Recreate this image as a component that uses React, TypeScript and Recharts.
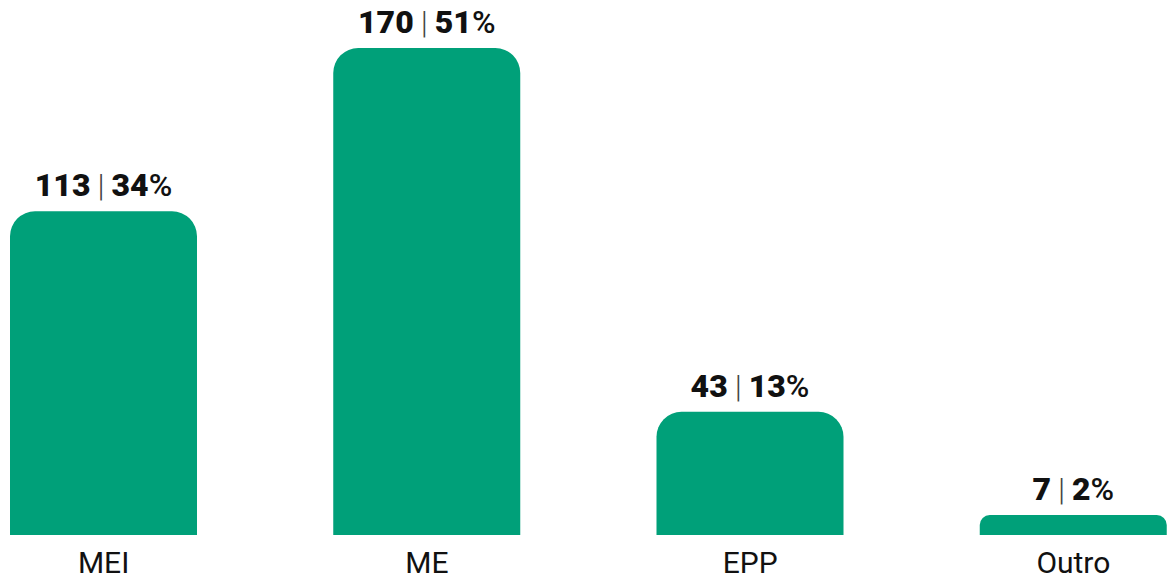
import React from "react";
import { BarChart, Bar, XAxis, YAxis, LabelList } from "recharts";

const categories = ["MEI", "ME", "EPP", "Outro"];
const counts = [113, 170, 43, 7];
const percents = [34, 51, 13, 2];

const data = categories.map((name, i) => ({ name, count: counts[i], pct: percents[i] }));

const FONT = "Roboto, 'Noto Sans', sans-serif";

const ValueLabel = (props: any) => {
  const { x, y, width, index } = props;
  const cx = x + width / 2;
  return (
    <text x={cx} y={y - 15} textAnchor="middle" fontFamily={FONT} fontSize={32} fill="#111">
      <tspan fontWeight={900}>{counts[index]}</tspan>
      <tspan dx={7} fontWeight={300} fill="#444">|</tspan>
      <tspan dx={7} fontWeight={900}>{percents[index]}</tspan>
      <tspan fontWeight={500}>%</tspan>
    </text>
  );
};

const Tick = (props: any) => {
  const { x, y, payload } = props;
  return (
    <text x={x} y={y} dy={30} textAnchor="middle" fontFamily={FONT} fontSize={30} fill="#111">
      {payload.value}
    </text>
  );
};

export default function App() {
  return (
    <div style={{ position: "absolute", left: 0, top: 0, width: 1168, height: 585, overflow: "hidden", background: "#fff" }}>
      <div style={{ position: "absolute", left: -58, top: 0 }}>
        <BarChart
          width={1293}
          height={585}
          data={data}
          margin={{ top: 48, right: 0, bottom: 0, left: 0 }}
          barCategoryGap={0}
        >
          <XAxis dataKey="name" height={50} axisLine={false} tickLine={false} tickSize={0} tickMargin={8} tick={<Tick />} interval={0} />
          <YAxis hide domain={[0, 170]} />
          <Bar dataKey="count" fill="#00A079" barSize={187} radius={[25, 25, 0, 0]} isAnimationActive={false}>
            <LabelList dataKey="count" content={<ValueLabel />} />
          </Bar>
        </BarChart>
      </div>
    </div>
  );
}
